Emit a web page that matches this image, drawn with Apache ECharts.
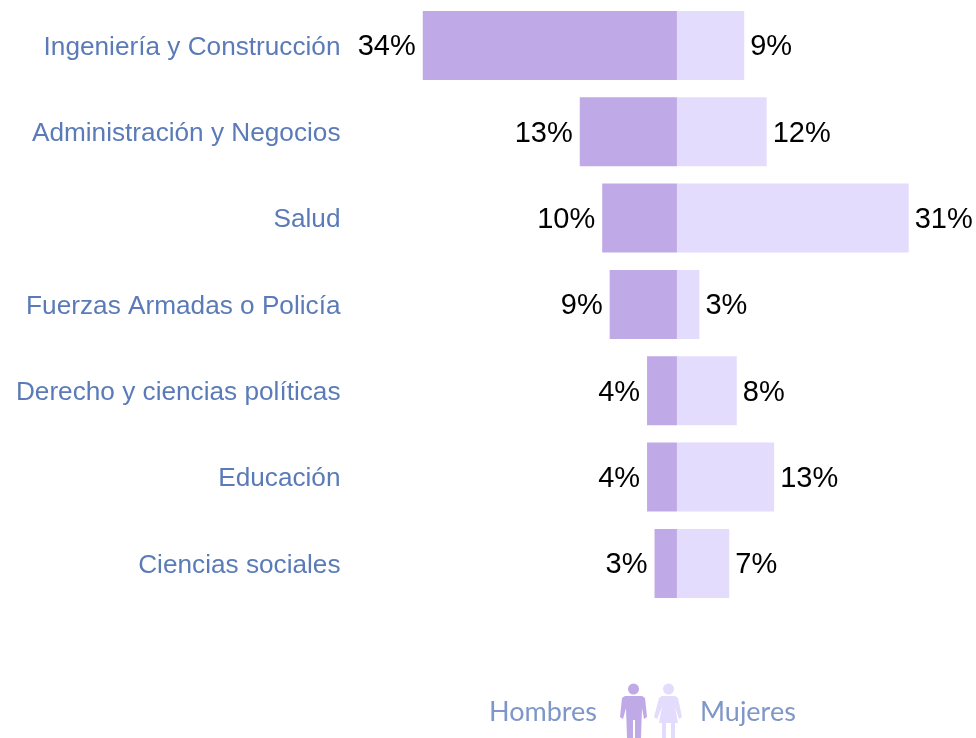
<!DOCTYPE html>
<html>
<head>
<meta charset="utf-8">
<style>
  html, body { margin: 0; padding: 0; background: #fff; }
  #chart { width: 976px; height: 738px; }
</style>
<script src="https://cdn.jsdelivr.net/npm/echarts@6/dist/echarts.min.js"></script>
</head>
<body>
<div id="chart"></div>
<script>
const categories = [
  "Ingeniería y Construcción",
  "Administración y Negocios",
  "Salud",
  "Fuerzas Armadas o Policía",
  "Derecho y ciencias políticas",
  "Educación",
  "Ciencias sociales",
];
const hombres = [34, 13, 10, 9, 4, 4, 3];
const mujeres = [9, 12, 31, 3, 8, 13, 7];
const legendNames = ["Hombres", "Mujeres"];

const colorHombres = "#bfa9e6";
const colorMujeres = "#e4dcfd";
const colorCat = "#5b7bb8";
const colorLegend = "#7f97c8";

// siluetas de la leyenda
const manBody = [
  [625, 696], [642, 696], [645, 698], [647, 717], [644, 719], [642, 708],
  [641, 738], [635, 738], [635, 720], [633, 720], [633, 738], [627, 738],
  [626, 708], [623, 719], [620, 717], [622, 698],
];
const womanBody = [
  [662, 696], [675, 696], [678, 698], [682, 717], [679, 719], [675, 707],
  [678, 723], [675, 723], [675, 738], [671, 738], [671, 723], [666, 723],
  [666, 738], [662, 738], [662, 723], [659, 723], [662, 707], [657, 719],
  [654, 717], [659, 698],
];

const chart = echarts.init(document.getElementById("chart"), null, { renderer: "canvas" });

chart.setOption({
  animation: false,
  backgroundColor: "#fff",
  grid: { left: 348, top: 2.3, width: 630, height: 604.3 },
  xAxis: {
    type: "value",
    min: -44,
    max: 40,
    show: false,
  },
  yAxis: {
    type: "category",
    data: categories,
    inverse: true,
    axisLine: { show: false },
    axisTick: { show: false },
    axisLabel: {
      color: colorCat,
      fontFamily: "Liberation Sans",
      fontSize: 26.2,
      margin: 7.5,
      align: "right",
      verticalAlign: "top",
      lineHeight: 4,
    },
  },
  series: [
    {
      name: legendNames[0],
      type: "bar",
      barGap: "-100%",
      data: hombres.map((v) => -v),
      barWidth: 69,
      itemStyle: { color: colorHombres },
      label: {
        show: true,
        position: "left",
        distance: 7,
        offset: [0, 2],
        color: "#000",
        fontFamily: "Liberation Sans",
        fontSize: 29,
        formatter: (p) => Math.abs(p.value) + "%",
      },
    },
    {
      name: legendNames[1],
      type: "bar",
      barGap: "-100%",
      data: mujeres,
      barWidth: 69,
      itemStyle: { color: colorMujeres },
      label: {
        show: true,
        position: "right",
        distance: 6,
        offset: [0, 2],
        color: "#000",
        fontFamily: "Liberation Sans",
        fontSize: 29,
        formatter: (p) => p.value + "%",
      },
    },
  ],
  graphic: [
    {
      type: "text",
      left: 489,
      top: 699,
      style: { text: legendNames[0], fill: colorLegend, font: '27px Lato' },
    },
    {
      type: "text",
      left: 700,
      top: 699,
      style: { text: legendNames[1], fill: colorLegend, font: '27px Lato' },
    },
    { type: "circle", shape: { cx: 633.5, cy: 689, r: 5.5 }, style: { fill: colorHombres } },
    { type: "polygon", shape: { points: manBody }, style: { fill: colorHombres } },
    { type: "circle", shape: { cx: 668.5, cy: 689, r: 5.5 }, style: { fill: colorMujeres } },
    { type: "polygon", shape: { points: womanBody }, style: { fill: colorMujeres } },
  ],
});
</script>
</body>
</html>
